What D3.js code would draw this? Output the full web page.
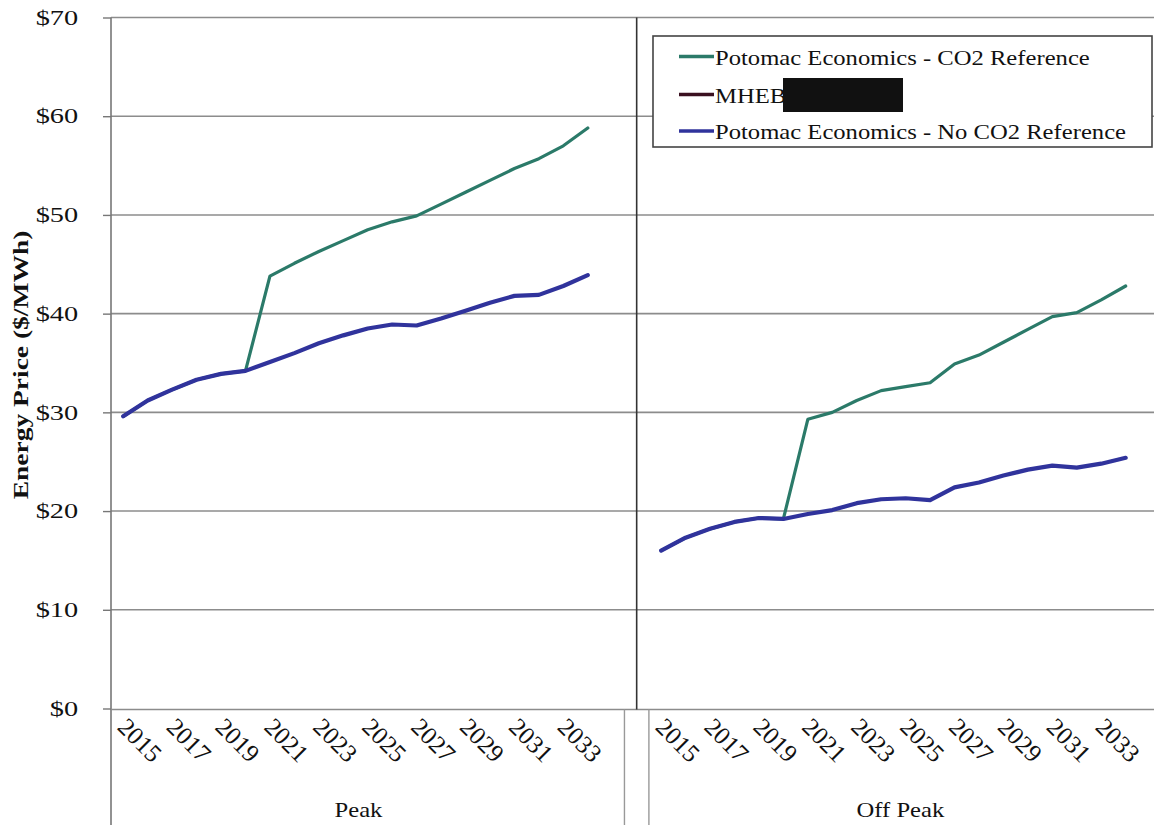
<!DOCTYPE html>
<html>
<head>
<meta charset="utf-8">
<script src="https://cdn.jsdelivr.net/npm/d3@7"></script>
<style>
  html, body { margin: 0; padding: 0; background: #fff; }
  svg { display: block; }
  text { font-family: "Liberation Serif", "Times New Roman", serif; fill: #111; }
</style>
</head>
<body>
<svg id="chart" width="1154" height="825"></svg>
<script>
// ---- data ----
const years = [2015, 2016, 2017, 2018, 2019, 2020, 2021, 2022, 2023, 2024,
               2025, 2026, 2027, 2028, 2029, 2030, 2031, 2032, 2033, 2034];
const tickYears = [2015, 2017, 2019, 2021, 2023, 2025, 2027, 2029, 2031, 2033];
const groups = ["Peak", "Off Peak"];
const seriesNames = ["Potomac Economics - CO2 Reference", "MHEB", "Potomac Economics - No CO2 Reference"];
const peakCO2   = [29.6, 31.2, 32.3, 33.3, 33.9, 34.2, 43.8, 45.1, 46.3, 47.4, 48.5, 49.3, 49.9, 51.1, 52.3, 53.5, 54.7, 55.7, 57.0, 58.8];
const peakNoCO2 = [29.6, 31.2, 32.3, 33.3, 33.9, 34.2, 35.1, 36.0, 37.0, 37.8, 38.5, 38.9, 38.8, 39.5, 40.3, 41.1, 41.8, 41.9, 42.8, 43.9];
const offCO2    = [16.0, 17.3, 18.2, 18.9, 19.3, 19.2, 29.3, 30.0, 31.2, 32.2, 32.6, 33.0, 34.9, 35.8, 37.1, 38.4, 39.7, 40.1, 41.4, 42.8];
const offNoCO2  = [16.0, 17.3, 18.2, 18.9, 19.3, 19.2, 19.7, 20.1, 20.8, 21.2, 21.3, 21.1, 22.4, 22.9, 23.6, 24.2, 24.6, 24.4, 24.8, 25.4];
const mheb = []; // values redacted / not shown
const yTicks = [0, 10, 20, 30, 40, 50, 60, 70];

(function () {
// ---- layout ----
const svg = d3.select("#chart");
const pLeft = 111, pTop = 17.5, pBottom = 708.5;
const step = 24.45;

// category slots: Peak years + blank, gap, Off Peak years + blank
const slots = [];
years.forEach(yr => slots.push("Peak|" + yr));
slots.push("Peak|blank");
slots.push("gap");
years.forEach(yr => slots.push("Off Peak|" + yr));
slots.push("Off Peak|blank");

const x = d3.scaleBand().domain(slots).range([pLeft, pLeft + slots.length * step]).paddingInner(0).paddingOuter(0);
const bw = x.bandwidth();
const cx = k => x(k) + bw / 2;
const y = d3.scaleLinear().domain([0, 70]).range([pBottom, pTop]);
const pRight = pLeft + slots.length * step;

// gridlines
svg.append("g").selectAll("line").data(yTicks.filter(t => t > 0)).join("line")
  .attr("x1", pLeft).attr("x2", pRight)
  .attr("y1", d => y(d)).attr("y2", d => y(d))
  .attr("stroke", "#8c8c8c").attr("stroke-width", 1.6);

// y axis
const yAxis = d3.axisLeft(y).tickValues(yTicks).tickSize(8).tickPadding(14)
  .tickFormat(d => "$" + d);
const gy = svg.append("g").attr("transform", `translate(${pLeft},0)`).call(yAxis);
gy.select(".domain").remove();
gy.selectAll(".tick line").attr("stroke", "#777").attr("stroke-width", 1.4);
gy.selectAll(".tick text")
  .attr("font-size", 21).attr("fill", "#111")
  .style("font-family", '"Liberation Serif", serif')
  .attr("transform", "scale(1.35,1)").attr("x", -22 / 1.35 - 8);

// left axis line (extends through category area)
svg.append("line").attr("x1", pLeft).attr("x2", pLeft).attr("y1", pTop).attr("y2", 825)
  .attr("stroke", "#777").attr("stroke-width", 1.6);

// x axis baseline
svg.append("line").attr("x1", pLeft).attr("x2", pRight).attr("y1", pBottom + 1).attr("y2", pBottom + 1)
  .attr("stroke", "#8c8c8c").attr("stroke-width", 1.6);

// group separators below axis
[x("gap"), x("gap") + bw].forEach(xx => {
  svg.append("line").attr("x1", xx).attr("x2", xx).attr("y1", pBottom + 1).attr("y2", 825)
    .attr("stroke", "#999").attr("stroke-width", 1.4);
});

// divider between panels
svg.append("line").attr("x1", cx("gap")).attr("x2", cx("gap")).attr("y1", pTop).attr("y2", pBottom + 1)
  .attr("stroke", "#333").attr("stroke-width", 1.6);

// year tick labels
const labelData = [];
groups.forEach(g => tickYears.forEach(yr => labelData.push({ g, yr })));
svg.append("g").selectAll("text").data(labelData).join("text")
  .attr("transform", d => `translate(${cx(d.g + "|" + d.yr) - 7},${pBottom + 20}) rotate(45)`)
  .attr("font-size", 25)
  .attr("text-anchor", "start")
  .text(d => d.yr);

// group labels
svg.append("text").attr("transform", `translate(${(cx("Peak|2015") + cx("Peak|2034")) / 2 + 3},817) scale(1.12,1)`)
  .attr("text-anchor", "middle").attr("font-size", 22).text(groups[0]);
svg.append("text").attr("transform", `translate(${(cx("Off Peak|2015") + cx("Off Peak|2034")) / 2 + 7},817) scale(1.12,1)`)
  .attr("text-anchor", "middle").attr("font-size", 22).text(groups[1]);

// y title
svg.append("text")
  .attr("transform", `translate(28,365) rotate(-90) scale(1.25,1)`)
  .attr("text-anchor", "middle")
  .attr("font-size", 22).attr("font-weight", "bold")
  .text("Energy Price ($/MWh)");

// lines
const colors = { co2: "#2b7a69", mheb: "#3a1020", noco2: "#30339c" };
const line = d3.line().x(d => cx(d.k)).y(d => y(d.v));
function seriesPts(group, vals) { return vals.map((v, i) => ({ k: group + "|" + years[i], v })); }

const plot = svg.append("g");
[[peakCO2, offCO2, colors.co2, 3.2], [peakNoCO2, offNoCO2, colors.noco2, 4.2]].forEach(([pv, ov, c, w]) => {
  [["Peak", pv], ["Off Peak", ov]].forEach(([g, vals]) => {
    plot.append("path").datum(seriesPts(g, vals))
      .attr("d", line).attr("fill", "none").attr("stroke", c)
      .attr("stroke-width", w).attr("stroke-linejoin", "round").attr("stroke-linecap", "round");
  });
});

// legend
const lg = svg.append("g");
lg.append("rect").attr("x", 653).attr("y", 36).attr("width", 499).attr("height", 111)
  .attr("fill", "#fff").attr("stroke", "#444").attr("stroke-width", 1.6);
const legendRows = [
  { name: seriesNames[0], color: colors.co2, yy: 56.5 },
  { name: seriesNames[1], color: colors.mheb, yy: 94.5 },
  { name: seriesNames[2], color: colors.noco2, yy: 131 }
];
legendRows.forEach(r => {
  lg.append("line").attr("x1", 679).attr("x2", 714).attr("y1", r.yy).attr("y2", r.yy)
    .attr("stroke", r.color).attr("stroke-width", 3.5);
  lg.append("text").attr("transform", `translate(715,${r.yy + 8}) scale(1.12,1)`)
    .attr("font-size", 22).text(r.name);
});
// redaction box
lg.append("rect").attr("x", 783).attr("y", 78).attr("width", 120).attr("height", 34).attr("fill", "#111");
})();
</script>
</body>
</html>
